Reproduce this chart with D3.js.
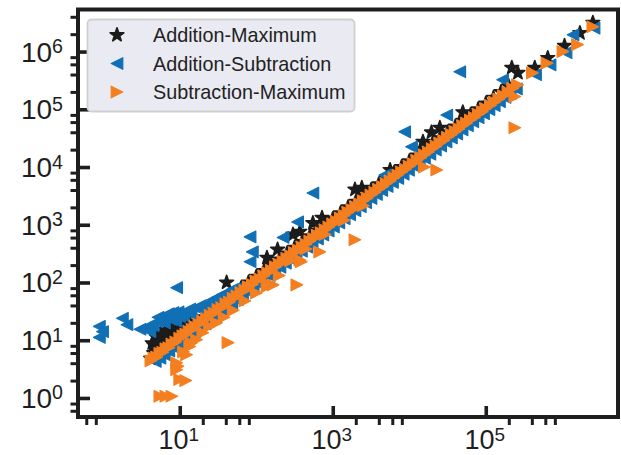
<!DOCTYPE html>
<html>
<head>
<meta charset="utf-8">
<script src="https://cdn.jsdelivr.net/npm/d3@7"></script>
<style>
  html, body { margin: 0; padding: 0; background: #ffffff; }
  svg { display: block; }
</style>
</head>
<body>
<svg id="chart" width="621" height="455"></svg>
<script>
// ---- data -------------------------------------------------------------
const seriesNames = ["Addition-Maximum", "Addition-Subtraction", "Subtraction-Maximum"];
const seriesColors = ["#1c1c1c", "#1170b5", "#f47f20"];

// Addition-Maximum: [x, y]
const addMaxPoints = [
  [4.17,4.8],[4.57,6.0],[5.0,7.2],[4.57,8.3],[5.25,9.5],[6.0,10.5],[6.9,12],[7.9,13.8],
  [9.1,15.1],[10.5,16.6],[5.5,6.6],[6.3,7.9],[7.6,10],[12,18.2],[13.8,18.2],[15.8,20.9],
  [4.37,8.9],[5.0,11.2],[5.75,13.2],[6.6,15.1],[7.6,16.6],[8.7,19],[10,20],[11.5,22.9],
  [4.79,7.6],[7.24,11.2],
  [20,25],[25,31.6],[31.6,40],[40,52],[41,100],[50,63],[63,79],[79,100],[100,126],
  [126,158],[138,269],[158,200],[190,372],[200,251],[251,316],[302,676],[316,398],
  [372,759],[398,501],[501,631],[550,1070],[631,794],[724,1320],[794,1000],[1000,1260],
  [1260,1580],[1580,2000],[1950,4070],[2400,4370],[2000,2510],[2510,3160],[3160,3980],
  [3980,5010],[5010,6310],[5620,8910],[6310,7940],[7940,1e4],[1e4,1.26e4],[1.26e4,1.58e4],
  [1.51e4,2.75e4],[1.58e4,2e4],[1.95e4,3.98e4],[2e4,2.51e4],[2.51e4,4.79e4],[2.51e4,3.16e4],
  [3.16e4,3.98e4],[3.98e4,5.01e4],[5.01e4,8.91e4],[5.01e4,6.31e4],[6.31e4,7.94e4],
  [7.94e4,1e5],[1e5,1.26e5],[1.26e5,1.58e5],[1.58e5,2e5],[2e5,2.51e5],[2.19e5,5.25e5],
  [2.63e5,4.27e5],[4.37e5,5.25e5],[6.46e5,7.76e5],[1.07e6,1.26e6],[1.7e6,2.09e6],[2.51e6,3.16e6]
];

// Addition-Subtraction: [x, y]
const addSubPoints = [
  [0.89,17.4],[0.98,14.1],[0.89,11.2],[1.78,24],[2.04,18.6],[3.02,15.5],[4.07,14.1],
  [3.55,16.6],[4.47,17.8],[5.01,20.9],[5.75,24.5],[6.3,20],[6.76,27.5],[7.6,22.9],
  [8.13,30.2],[8.9,21.4],[10,25.7],[11.2,26.3],[12.3,31.6],[14.1,28.2],[16.6,36.3],
  [19,33.1],[22.4,41.7],[26.9,50.1],[36.3,61.7],[49,75.9],[66,85],[9.12,81.3],
  [5.2,25],[7.1,28.8],[9.5,30.9],[13.5,34.7],[18.6,39.8],[30.9,55],[42.7,67.6],[56,79],
  [83,617],[89,339],[83,229],[224,603],[347,1120],[550,3550],[4790,7240],[8710,4.07e4],
  [1.07e4,2.24e4],[3.09e4,7.94e4],[4.57e4,4.47e5],[1.66e5,3.24e5],
  [4.79,4.3],[5.5,4.9],[6.3,5.6],[7.2,6.5],[8.3,7.5],[9.5,8.6],[11.2,10.1],[13.2,11.8],
  [15.5,13.9],[18.2,16.4],[21.4,19.2],[25.1,22.6],[29.5,26.5],[34.7,31.2],[40.7,36.5],
  [47.9,43.2],[56.2,50.5],[66.1,59.5],[77.6,70],[91.2,82],[107,96],[126,113],[148,133],
  [174,157],[204,184],[240,216],[282,254],[331,298],[389,350],[457,411],[537,483],
  [631,568],[741,667],[871,784],[1020,920],[1200,1080],[1410,1270],[1660,1490],
  [1950,1750],[2290,2060],[2690,2420],[3160,2850],[3720,3340],[4370,3930],[5130,4620],
  [6030,5420],[7080,6370],[8320,7490],[9770,8790],[1.15e4,1.03e4],[1.35e4,1.21e4],
  [1.58e4,1.42e4],[1.86e4,1.67e4],[2.19e4,1.97e4],[2.57e4,2.31e4],[3.02e4,2.72e4],
  [3.55e4,3.19e4],[4.17e4,3.75e4],[4.9e4,4.41e4],[5.75e4,5.18e4],[6.76e4,6.08e4],
  [7.94e4,7.15e4],[9.33e4,8.4e4],[1.1e5,9.9e4],[1.29e5,1.16e5],[1.51e5,1.36e5],
  [1.78e5,1.6e5],[2.09e5,1.88e5],[2.51e5,2.26e5],
  [4.47e5,3.98e5],[6.92e5,5.89e5],[1.12e6,9.55e5],[1.38e6,1.95e6],[2.6e6,2.55e6]
];

// Subtraction-Maximum: [x, y]
const subMaxPoints = [
  [4.2,4.4],[4.6,4.9],[5.0,5.1],[5.5,5.9],[6.0,6.2],[6.6,7.1],[7.2,7.4],[7.9,8.6],
  [8.9,9.3],[10,10.8],[11,11.9],[12,12.8],[13.2,14.3],[14.5,15.4],[15.8,17.3],[17.8,18.9],
  [20,21.5],[22.4,23.6],[25,27],[28,29.5],[31.6,34],[35.5,36.5],[40,42.5],[44.7,46],
  [50,53],[56,58],[63,67],[71,73],[79,84],[89,92],[100,106],[112,115],[126,131],
  [141,147],[158,163],[178,186],[200,207],[224,232],[251,262],[282,290],[316,331],
  [355,365],[398,412],[447,460],[501,520],[562,578],[631,655],[708,726],[794,820],
  [891,915],[1000,1035],[1120,1150],[1260,1300],[1410,1450],[1580,1640],[1780,1830],
  [2000,2060],[2240,2300],[2510,2600],[2820,2890],[3160,3270],[3550,3640],[3980,4110],
  [4470,4580],[5010,5180],[5620,5760],[6310,6520],[7080,7250],[7940,8200],[8910,9130],
  [1.0e4,1.03e4],[1.12e4,1.15e4],[1.26e4,1.3e4],[1.41e4,1.45e4],[1.58e4,1.63e4],
  [1.78e4,1.82e4],[2.0e4,2.07e4],[2.24e4,2.3e4],[2.51e4,2.6e4],[2.82e4,2.88e4],
  [3.16e4,3.27e4],[3.55e4,3.63e4],[3.98e4,4.1e4],[4.47e4,4.57e4],[5.0e4,5.2e4],
  [5.6e4,5.75e4],[6.3e4,6.5e4],[7.1e4,7.2e4],[8.0e4,8.2e4],[9.0e4,9.1e4],[1.0e5,1.03e5],
  [1.15e5,1.17e5],[1.3e5,1.33e5],[1.48e5,1.5e5],[1.7e5,1.72e5],[1.95e5,1.98e5],
  [2.25e5,2.3e5],[2.6e5,2.65e5],
  [4.07e5,4.27e5],[6.31e5,6.31e5],[1.02e6,1.0e6],[1.58e6,1.32e6],[2.51e6,2.69e6],
  [2.4e5,4.79e4],[2.4e5,1.66e5],[2.29e4,8910],[1.58e4,1e4],[1950,550],[676,339],
  [389,229],[372,245],[339,91],[166,91],[138,85],[42.7,9.1],[9.12,4.07],[9.12,3.09],
  [9.5,3.55],[10,2.09],[12,2.0],[5.5,1.07],[6.6,1.07],[7.9,1.07],
  [12.3,5.6],[13.5,7.8],[16.6,10.2],[20,13.5],[24.5,17.4],[14.1,8.9],[11.2,6.3],
  [30.2,20],[38,25],[50,33],[71,48],[100,66],[141,95],[200,132],
  [282,240],[447,380],[794,680],[1410,1200],[2510,2140]
];

// axis ticks
const axisDomain = [0.468, 5.35e6];
const xMajorTicks = [1e1, 1e3, 1e5];
const xMajorExps = ["1", "3", "5"];
const yMajorTicks = [1e0, 1e1, 1e2, 1e3, 1e4, 1e5, 1e6];
const yMajorExps = ["0", "1", "2", "3", "4", "5", "6"];
const xMinorTicks = [0.6, 0.8, 20, 40, 60, 80, 2000, 4000, 6000, 8000, 2e5, 4e5, 6e5, 8e5];
const yMinorTicks = [0.6, 0.8, 2, 4, 6, 8, 20, 40, 60, 80, 200, 400, 600, 800,
  2000, 4000, 6000, 8000, 2e4, 4e4, 6e4, 8e4, 2e5, 4e5, 6e5, 8e5, 2e6, 4e6];

// ---- layout ----------------------------------------------------------
const plot = { left: 78, right: 618, top: 9.5, bottom: 417 };
const ink = "#1e1e1e";
const labelFont = "'Liberation Sans', Arial, Helvetica, sans-serif";

const svg = d3.select("#chart");
const x = d3.scaleLog().domain(axisDomain).range([plot.left, plot.right]);
const y = d3.scaleLog().domain(axisDomain).range([plot.bottom, plot.top]);

svg.append("rect").attr("width", 621).attr("height", 455).attr("fill", "#ffffff");

svg.append("clipPath").attr("id", "plotClip")
  .append("rect")
  .attr("x", plot.left).attr("y", plot.top)
  .attr("width", plot.right - plot.left).attr("height", plot.bottom - plot.top);

// ---- marker shapes ---------------------------------------------------
function starPath(R) {
  const r = R * 0.40;
  const pts = [];
  for (let i = 0; i < 10; i++) {
    const a = -Math.PI / 2 + i * Math.PI / 5;
    const rad = i % 2 === 0 ? R : r;
    pts.push([rad * Math.cos(a), rad * Math.sin(a)]);
  }
  return "M" + pts.map(p => p[0].toFixed(2) + "," + p[1].toFixed(2)).join("L") + "Z";
}
function triLeftPath(h) { return `M${-h},0L${h},${-h}L${h},${h}Z`; }
function triRightPath(h) { return `M${h},0L${-h},${-h}L${-h},${h}Z`; }

const markerPaths = [starPath(7.2), triLeftPath(5.8), triRightPath(5.8)];
const markerStroke = [1.6, 1.2, 1.2];
const seriesData = [addMaxPoints, addSubPoints, subMaxPoints];

// ---- points ----------------------------------------------------------
const pointsLayer = svg.append("g").attr("clip-path", "url(#plotClip)");
seriesData.forEach((pts, i) => {
  pointsLayer.append("g")
    .selectAll("path")
    .data(pts)
    .join("path")
    .attr("d", markerPaths[i])
    .attr("transform", d => `translate(${x(d[0])},${y(d[1])})`)
    .attr("fill", seriesColors[i])
    .attr("stroke", seriesColors[i])
    .attr("stroke-width", markerStroke[i])
    .attr("stroke-linejoin", "round");
});

// ---- axes --------------------------------------------------------------
function styleAxis(g, width) {
  g.select(".domain").remove();
  g.selectAll(".tick line").attr("stroke", ink).attr("stroke-width", width);
  g.selectAll(".tick text").remove();
}

// major ticks point inward, minor ticks point outward
svg.append("g").attr("transform", `translate(0,${plot.bottom})`)
  .call(d3.axisBottom(x).tickValues(xMajorTicks).tickSizeInner(-11).tickSizeOuter(0).tickFormat(""))
  .call(g => styleAxis(g, 3.6));
svg.append("g").attr("transform", `translate(0,${plot.bottom})`)
  .call(d3.axisBottom(x).tickValues(xMinorTicks).tickSizeInner(8).tickSizeOuter(0).tickFormat(""))
  .call(g => styleAxis(g, 3));
svg.append("g").attr("transform", `translate(${plot.left},0)`)
  .call(d3.axisLeft(y).tickValues(yMajorTicks).tickSizeInner(-12).tickSizeOuter(0).tickFormat(""))
  .call(g => styleAxis(g, 3.6));
svg.append("g").attr("transform", `translate(${plot.left},0)`)
  .call(d3.axisLeft(y).tickValues(yMinorTicks).tickSizeInner(7.5).tickSizeOuter(0).tickFormat(""))
  .call(g => styleAxis(g, 3));

// frame
svg.append("rect")
  .attr("x", plot.left).attr("y", plot.top)
  .attr("width", plot.right - plot.left).attr("height", plot.bottom - plot.top)
  .attr("fill", "none").attr("stroke", ink).attr("stroke-width", 4);

// tick labels with superscript exponents
function powerLabel(sel, exp, size) {
  sel.append("tspan").text("10");
  sel.append("tspan").attr("dy", -8.5).attr("font-size", size * 0.7).text(exp);
}
xMajorTicks.forEach((v, i) => {
  svg.append("text")
    .attr("x", x(v) - 1).attr("y", 449)
    .attr("text-anchor", "middle")
    .attr("font-family", labelFont).attr("font-size", 27).attr("fill", ink)
    .call(powerLabel, xMajorExps[i], 27);
});
yMajorTicks.forEach((v, i) => {
  svg.append("text")
    .attr("x", 63).attr("y", y(v) + 10)
    .attr("text-anchor", "end")
    .attr("font-family", labelFont).attr("font-size", 28).attr("fill", ink)
    .call(powerLabel, yMajorExps[i], 28);
});

// ---- legend -------------------------------------------------------------
const legend = svg.append("g");
legend.append("rect")
  .attr("x", 87.5).attr("y", 19.5).attr("width", 267).attr("height", 92)
  .attr("rx", 4).attr("fill", "#eaeaf2").attr("stroke", "#d0d0d0").attr("stroke-width", 1.8);
const legendRows = [35, 63.5, 92];
seriesNames.forEach((name, i) => {
  legend.append("path")
    .attr("d", markerPaths[i])
    .attr("transform", `translate(117,${legendRows[i]})`)
    .attr("fill", seriesColors[i]).attr("stroke", seriesColors[i])
    .attr("stroke-width", markerStroke[i]).attr("stroke-linejoin", "round");
  legend.append("text")
    .attr("x", 153).attr("y", legendRows[i] + 7)
    .attr("font-family", labelFont).attr("font-size", 19.8).attr("fill", "#222")
    .text(name);
});
</script>
</body>
</html>
